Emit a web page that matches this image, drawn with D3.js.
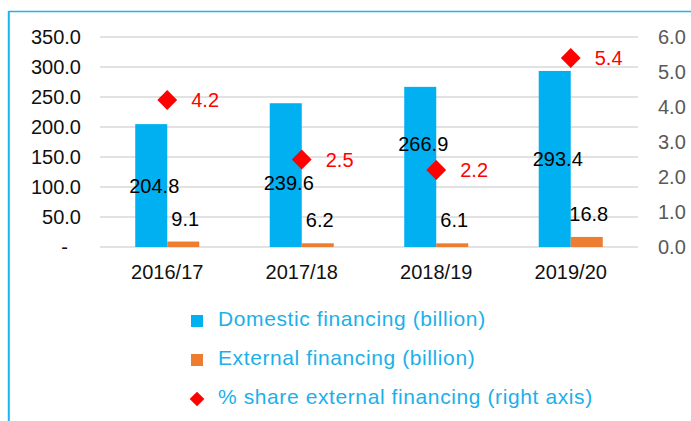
<!DOCTYPE html>
<html>
<head>
<meta charset="utf-8">
<script src="https://cdn.jsdelivr.net/npm/d3@7"></script>
<style>
  body { margin: 0; background: #fff; }
  svg { display: block; font-family: "Liberation Sans", Arial, sans-serif; }
</style>
</head>
<body>
<div class="chart"></div>
<script>
// Chart data
var years = ["2016/17", "2017/18", "2018/19", "2019/20"];
var domestic = [204.8, 239.6, 266.9, 293.4];
var external = [9.1, 6.2, 6.1, 16.8];
var shareExternal = [4.2, 2.5, 2.2, 5.4];
var leftTicks = [0, 50, 100, 150, 200, 250, 300, 350];
var rightTicks = [0, 1, 2, 3, 4, 5, 6];
var legendLabels = ["Domestic financing (billion)", "External financing (billion)", "% share external financing (right axis)"];

var svgWidth = 691;
var svgHeight = 421;

var plot = { left: 100, right: 638, top: 37, bottom: 247 };

var blue = "#00b0f0";
var orange = "#ed7d31";
var red = "#ff0000";

var svg = d3.select(".chart")
    .append("svg")
    .attr("width", svgWidth)
    .attr("height", svgHeight);

// Frame lines (top and left)
svg.append("line")
    .attr("x1", 8.5).attr("x2", svgWidth)
    .attr("y1", 11.5).attr("y2", 11.5)
    .attr("stroke", "#1cb5ec").attr("stroke-width", 1.5);
svg.append("line")
    .attr("x1", 8.8).attr("x2", 8.8)
    .attr("y1", 11).attr("y2", svgHeight)
    .attr("stroke", "#1cb5ec").attr("stroke-width", 2);

// Scales
var x0 = d3.scaleBand()
    .domain(years)
    .range([plot.left, plot.right])
    .paddingInner(0.524)
    .paddingOuter(0.262);

var x1 = d3.scaleBand()
    .domain(["domestic", "external"])
    .range([0, x0.bandwidth()]);

var yLeft = d3.scaleLinear()
    .domain([0, 350])
    .range([plot.bottom, plot.top]);

var yRight = d3.scaleLinear()
    .domain([0, 6])
    .range([plot.bottom, plot.top]);

// Gridlines
svg.append("g")
    .selectAll("line")
    .data(leftTicks)
    .enter()
    .append("line")
    .attr("x1", plot.left)
    .attr("x2", plot.right)
    .attr("y1", d => yLeft(d))
    .attr("y2", d => yLeft(d))
    .attr("stroke", "#d9d9d9")
    .attr("stroke-width", 1.5);

// Left axis
var leftAxis = d3.axisLeft(yLeft)
    .tickValues(leftTicks)
    .tickSize(0)
    .tickPadding(19)
    .tickFormat(d => d === 0 ? "-" : d3.format(".1f")(d));

var gLeft = svg.append("g")
    .attr("transform", `translate(${plot.left}, 0)`)
    .call(leftAxis);
gLeft.select(".domain").remove();
gLeft.selectAll("text")
    .attr("font-size", 20)
    .attr("font-family", "Liberation Sans, Arial, sans-serif")
    .attr("fill", "#111")
    .attr("dx", d => d === 0 ? -13 : 0);

// Right axis
var rightAxis = d3.axisRight(yRight)
    .tickValues(rightTicks)
    .tickSize(0)
    .tickPadding(20)
    .tickFormat(d3.format(".1f"));

var gRight = svg.append("g")
    .attr("transform", `translate(${plot.right}, 0)`)
    .call(rightAxis);
gRight.select(".domain").remove();
gRight.selectAll("text")
    .attr("font-size", 20)
    .attr("font-family", "Liberation Sans, Arial, sans-serif")
    .attr("fill", "#595959");

// Bottom axis (category labels)
var bottomAxis = d3.axisBottom(x0).tickSize(0).tickPadding(18);
var gBottom = svg.append("g")
    .attr("transform", `translate(0, ${plot.bottom})`)
    .call(bottomAxis);
gBottom.select(".domain").remove();
gBottom.selectAll("text")
    .attr("font-size", 20)
    .attr("font-family", "Liberation Sans, Arial, sans-serif")
    .attr("fill", "#111");

// Bars
var rows = years.map((y, i) => ({
    year: y,
    domestic: domestic[i],
    external: external[i],
    share: shareExternal[i]
}));

svg.append("g")
    .selectAll("rect")
    .data(rows)
    .enter()
    .append("rect")
    .attr("x", d => x0(d.year) + x1("domestic"))
    .attr("y", d => yLeft(d.domestic))
    .attr("width", x1.bandwidth())
    .attr("height", d => yLeft(0) - yLeft(d.domestic))
    .attr("fill", blue);

svg.append("g")
    .selectAll("rect")
    .data(rows)
    .enter()
    .append("rect")
    .attr("x", d => x0(d.year) + x1("external"))
    .attr("y", d => yLeft(d.external))
    .attr("width", x1.bandwidth())
    .attr("height", d => yLeft(0) - yLeft(d.external))
    .attr("fill", orange);

// Domestic labels: middle of bar, nudged away from the diamond when they collide
function domesticLabelY(d) {
    var mid = (yLeft(d.domestic) + yLeft(0)) / 2;
    var dy = yRight(d.share);
    if (Math.abs(mid - dy) < 24) {
        return mid >= dy ? dy + 23 : dy - 26;
    }
    return mid;
}

svg.append("g")
    .selectAll("text")
    .data(rows)
    .enter()
    .append("text")
    .attr("x", d => x0(d.year) + x1("domestic") + x1.bandwidth() / 2 + 3)
    .attr("y", d => domesticLabelY(d) + 7)
    .attr("text-anchor", "middle")
    .attr("font-size", 20)
    .attr("fill", "#000")
    .text(d => d3.format(".1f")(d.domestic));

svg.append("g")
    .selectAll("text")
    .data(rows)
    .enter()
    .append("text")
    .attr("x", d => x0(d.year) + x1("external") + x1.bandwidth() / 2 + 2)
    .attr("y", d => yLeft(d.external) - 16)
    .attr("text-anchor", "middle")
    .attr("font-size", 20)
    .attr("fill", "#000")
    .text(d => d3.format(".1f")(d.external));

// Share markers (diamonds) on the right axis
var cx = d => x0(d.year) + x0.bandwidth() / 2;

svg.append("g")
    .selectAll("rect")
    .data(rows)
    .enter()
    .append("rect")
    .attr("x", -7)
    .attr("y", -7)
    .attr("width", 14)
    .attr("height", 14)
    .attr("transform", d => `translate(${cx(d)}, ${yRight(d.share)}) rotate(45)`)
    .attr("fill", red);

svg.append("g")
    .selectAll("text")
    .data(rows)
    .enter()
    .append("text")
    .attr("x", d => cx(d) + 24)
    .attr("y", d => yRight(d.share) + 7)
    .attr("font-size", 20)
    .attr("fill", red)
    .text(d => d3.format(".1f")(d.share));

// Legend
var legend = svg.append("g")
    .attr("transform", "translate(191, 315)");

var legendItems = legend.selectAll("g")
    .data(legendLabels)
    .enter()
    .append("g")
    .attr("transform", (d, i) => `translate(0, ${i * 39})`);

legendItems.filter((d, i) => i < 2)
    .append("rect")
    .attr("width", 12)
    .attr("height", 12)
    .attr("fill", (d, i) => i === 0 ? blue : orange);

legendItems.filter((d, i) => i === 2)
    .append("rect")
    .attr("x", -5.2)
    .attr("y", -5.2)
    .attr("width", 10.4)
    .attr("height", 10.4)
    .attr("transform", "translate(6, 6) rotate(45)")
    .attr("fill", red);

legendItems.append("text")
    .attr("x", 27)
    .attr("y", 11)
    .attr("font-size", 21)
    .attr("letter-spacing", 0.6)
    .attr("fill", "#1cb0ea")
    .text(d => d);
</script>
</body>
</html>
